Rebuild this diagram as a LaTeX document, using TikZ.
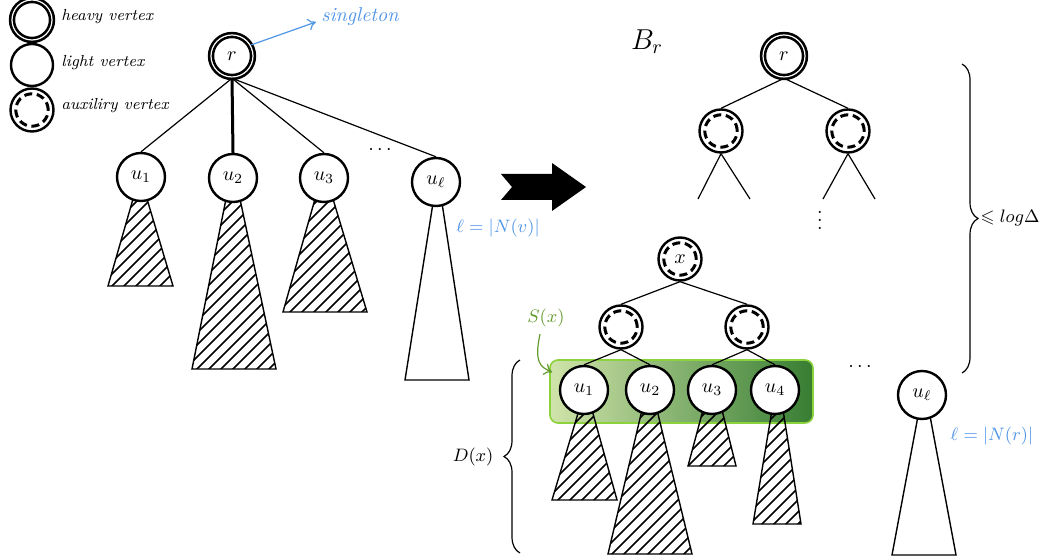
\documentclass[tikz,border=0pt]{standalone}
\usepackage{amssymb}
\usetikzlibrary{decorations.pathreplacing,calc,arrows.meta}
\definecolor{myblue}{RGB}{80,150,230}
\definecolor{mygreen}{RGB}{100,155,45}
\definecolor{gleft}{RGB}{208,228,170}
\definecolor{gright}{RGB}{55,125,50}
\definecolor{gborder}{RGB}{140,210,60}
\pgfdeclarelayer{background}
\pgfsetlayers{background,main}
\newcommand\myhatchtri[1]{%
  \begin{scope}
    \clip #1 -- cycle;
    \foreach \c in {290,302,...,1570} \draw[hatchline] (\c-600,600) -- (\c,0);
  \end{scope}
  \draw[plaintree] #1 -- cycle;}
\begin{document}
\begin{tikzpicture}[x=0.5pt,y=-0.5pt,
  vtx/.style={circle,draw,line width=1.2pt,fill=white,minimum size=24pt,inner sep=0pt},
  heavy/.style={circle,draw,line width=1.3pt,double=white,double distance=0.6pt,fill=white,minimum size=21pt,inner sep=0pt},
  aux/.style={vtx,minimum size=21.5pt,path picture={\draw[line width=1.5pt,dash pattern=on 4pt off 2.3pt] (path picture bounding box.center) circle[radius=8.1pt];}},
  edge/.style={line width=0.6pt},
  heavyedge/.style={line width=1.5pt},
  hatchline/.style={line width=0.8pt},
  plaintree/.style={line width=0.7pt},
  legtext/.style={anchor=west,font=\footnotesize\itshape,inner sep=0pt},
  bluetext/.style={text=myblue,font=\small},
  brc/.style={decorate,decoration={brace,amplitude=8pt},line width=0.6pt},
]
\useasboundingbox (0,0) rectangle (1042,560);

% ---------- legend ----------
\node[heavy,minimum size=20pt] (lh) at (32,20) {};
\node[vtx,minimum size=21pt] (ll) at (32,65) {};
\node[aux] (la) at (32,110) {};
\node[legtext] (lht) at (61,17) {heavy vertex};
\node[legtext] (llt) at (61,63) {light vertex};
\node[legtext] (lat) at (61,106) {auxiliry vertex};

% ---------- left tree ----------
\node[heavy] (r) at (232,56) {$r$};
\node[vtx] (u1) at (141,177) {$u_1$};
\node[vtx] (u2) at (233,178) {$u_2$};
\node[vtx] (u3) at (324,178) {$u_3$};
\node[vtx] (ul) at (436,182) {$u_\ell$};
\node (ldots) at (380,150) {$\cdots$};
\draw[edge] (r.south) -- (u1.north);
\draw[heavyedge] (r.south) -- (u2.north);
\draw[edge] (r.south) -- (u3.north);
\draw[edge] (r.south) -- (ul.north);
\node[anchor=west,text=myblue,font=\itshape,inner sep=1pt] (sing) at (319,17) {singleton};
\draw[myblue,line width=0.6pt,-{To[length=4pt,width=6pt]}] (r.30) -- ($(sing.west)+(-3,5)$);
\node[bluetext] (lv) at (498,228) {$\ell=|N(v)|$};

\begin{pgfonlayer}{background}
\myhatchtri{(133,199) -- (147,199) -- (173,286) -- (108,286)}
\myhatchtri{(226,199) -- (240,199) -- (276,369) -- (192,369)}
\myhatchtri{(315,199) -- (333,199) -- (367,312) -- (283,312)}
\draw[plaintree] (433,203) -- (442,203) -- (469,380) -- (405,380) -- cycle;
\end{pgfonlayer}

% ---------- big arrow ----------
\fill (501,174) -- (552,174) -- (552,163) -- (586,187) -- (552,211) -- (552,200) -- (501,200) -- (512,187) -- cycle;

% ---------- right side ----------
\node[font=\Large] (br) at (647,42) {$B_r$};
\node[heavy] (r2) at (784,56) {$r$};
\node[aux] (a1) at (721,131) {};
\node[aux] (a2) at (848,131) {};
\draw[edge] (r2.south) -- (a1.north);
\draw[edge] (r2.south) -- (a2.north);
\coordinate (a1l) at (698,199);
\coordinate (a1r) at (750,199);
\coordinate (a2l) at (823,199);
\coordinate (a2r) at (875,199);
\draw[edge] (a1.south) -- (a1l);
\draw[edge] (a1.south) -- (a1r);
\draw[edge] (a2.south) -- (a2l);
\draw[edge] (a2.south) -- (a2r);
\node (vd) at (820,214) {$\vdots$};

\node[aux] (x) at (680,259) {$x$};
\node[aux] (b1) at (621,327) {};
\node[aux] (b2) at (747,327) {};
\node[vtx] (v1) at (584,390) {$u_1$};
\node[vtx] (v2) at (650,390) {$u_2$};
\node[vtx] (v3) at (712,390) {$u_3$};
\node[vtx] (v4) at (775,390) {$u_4$};
\node[vtx] (vl) at (922,395) {$u_\ell$};
\node (rdots) at (860,367) {$\cdots$};
\draw[edge] (x.south) -- (b1.north);
\draw[edge] (x.south) -- (b2.north);
\draw[edge] (b1.south) -- (v1.north);
\draw[edge] (b1.south) -- (v2.north);
\draw[edge] (b2.south) -- (v3.north);
\draw[edge] (b2.south) -- (v4.north);

\begin{pgfonlayer}{background}
\node[draw=gborder,line width=0.8pt,rounded corners=4pt,left color=gleft,right color=gright,
      minimum width=131.5pt,minimum height=31.5pt,inner sep=0pt] (sbox) at (681.5,391.5) {};
\myhatchtri{(579,410) -- (592,410) -- (617,500) -- (552,500)}
\myhatchtri{(642,410) -- (657,410) -- (692,554) -- (608,554)}
\myhatchtri{(703,410) -- (722,410) -- (736,466) -- (688,466)}
\myhatchtri{(772,410) -- (783,410) -- (801,524) -- (753,524)}
\draw[plaintree] (918,416) -- (930,416) -- (956,555) -- (892,555) -- cycle;
\end{pgfonlayer}

\node[text=mygreen,font=\small] (sx) at (546,318) {$S(x)$};
\draw[mygreen,line width=0.6pt,-{To[length=4pt,width=6pt]}] ($(sx.south)+(-6,0)$) .. controls (534,362) and (540,367) .. ($(sbox.north west)+(3,13)$);
\node[bluetext] (lr) at (992,436) {$\ell=|N(r)|$};

% ---------- braces ----------
\coordinate (rbt) at (962,64);
\coordinate (rbb) at (962,373);
\draw[brc] (rbt) -- (rbb) node[midway,right=9pt,inner sep=0pt,font=\small] (logd) {$\leqslant log\Delta$};
\coordinate (lbb) at (520,553);
\coordinate (lbt) at (520,360);
\draw[brc] (lbb) -- (lbt) node[midway,left=13pt,inner sep=0pt,font=\small] (dx) {$D(x)$};
\end{tikzpicture}
\end{document}
